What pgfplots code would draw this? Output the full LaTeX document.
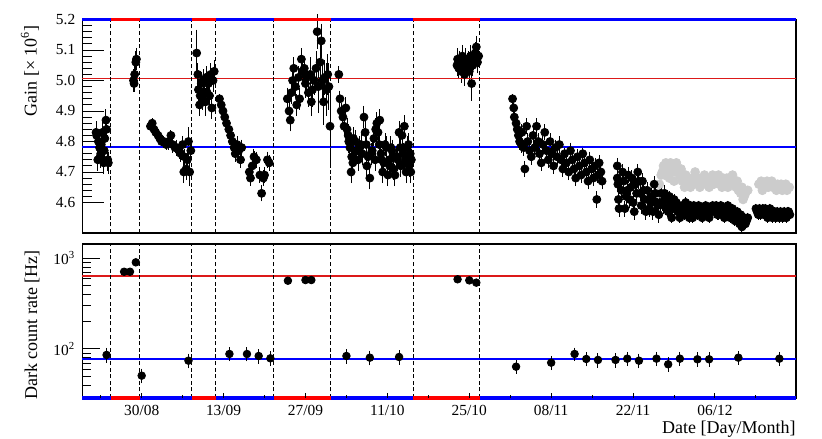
\documentclass[border=0pt]{standalone}
\usepackage{fontspec}
\setmainfont{Liberation Serif}
\usepackage{pgfplots}
\usepackage{pgfplotstable}
\pgfplotsset{compat=1.18}

\definecolor{runRed}{RGB}{255,0,0}
\definecolor{runBlue}{RGB}{0,0,255}
\definecolor{refRed}{RGB}{220,25,25}
\definecolor{lateGrey}{RGB}{204,204,204}

% day 0 = 30/08
\pgfplotstableread{
x y e
-7.8 4.83 0.03
-7.7 4.82 0.03
-7.5 4.74 0.03
-7.4 4.80 0.03
-7.2 4.78 0.03
-7.1 4.75 0.03
-7.0 4.76 0.03
-6.9 4.79 0.03
-6.7 4.83 0.03
-6.5 4.73 0.03
-6.4 4.77 0.03
-6.3 4.81 0.03
-6.1 4.87 0.03
-6.0 4.84 0.03
-5.8 4.74 0.03
-5.7 4.73 0.03
-1.4 5.00 0.03
-1.3 4.99 0.02
-1.2 5.02 0.03
-1.0 5.06 0.03
-0.9 5.07 0.03
1.5 4.85 0.01
1.8 4.86 0.01
2.1 4.84 0.01
2.4 4.83 0.01
2.8 4.82 0.01
3.1 4.81 0.01
3.4 4.80 0.01
3.8 4.80 0.01
4.2 4.79 0.01
4.6 4.80 0.02
5.0 4.82 0.01
5.3 4.79 0.02
5.7 4.78 0.01
6.0 4.78 0.02
6.4 4.77 0.02
6.7 4.76 0.02
7.0 4.79 0.02
7.2 4.70 0.03
7.3 4.75 0.02
7.6 4.71 0.03
7.8 4.74 0.03
8.0 4.80 0.04
8.2 4.70 0.04
8.4 4.77 0.03
9.4 5.09 0.07
9.6 5.02 0.03
9.7 4.97 0.03
9.9 4.92 0.03
10.0 4.95 0.03
10.2 4.99 0.03
10.4 4.94 0.03
10.5 5.00 0.03
10.7 4.96 0.03
10.9 4.93 0.04
11.0 5.01 0.03
11.2 4.96 0.03
11.4 4.99 0.03
11.6 4.95 0.03
11.8 5.02 0.03
12.0 4.91 0.03
12.2 5.00 0.03
12.4 5.03 0.03
13.3 4.94 0.01
13.6 4.92 0.01
13.9 4.90 0.01
14.2 4.88 0.01
14.5 4.86 0.01
14.9 4.84 0.01
15.2 4.82 0.01
15.5 4.80 0.01
15.8 4.78 0.01
16.0 4.76 0.02
16.3 4.79 0.02
16.6 4.77 0.02
16.9 4.74 0.02
17.1 4.78 0.02
18.4 4.70 0.02
18.6 4.68 0.02
18.9 4.72 0.02
19.2 4.75 0.02
19.6 4.74 0.02
20.2 4.69 0.02
20.5 4.63 0.02
20.8 4.68 0.02
21.0 4.69 0.02
21.5 4.74 0.02
21.8 4.73 0.02
24.9 4.94 0.03
25.2 4.90 0.03
25.4 4.87 0.03
25.6 4.96 0.03
25.8 5.00 0.03
26.0 5.04 0.03
26.3 4.98 0.03
26.5 4.92 0.03
26.8 5.01 0.03
27.0 4.94 0.03
27.3 5.07 0.03
27.5 5.03 0.04
27.8 5.04 0.03
28.0 4.99 0.04
28.2 5.01 0.03
28.5 4.96 0.04
28.8 5.02 0.05
29.0 4.93 0.04
29.2 4.97 0.05
29.5 5.00 0.04
29.8 5.04 0.05
30.0 5.16 0.05
30.2 4.98 0.08
30.5 5.06 0.06
30.7 5.13 0.05
30.9 5.00 0.06
31.1 4.93 0.07
31.3 5.01 0.05
31.6 4.97 0.08
31.8 5.02 0.06
32.0 4.98 0.07
32.2 4.85 0.13
33.7 5.02 0.02
33.9 4.94 0.02
34.1 4.90 0.02
34.4 4.88 0.02
34.6 4.85 0.02
34.9 4.91 0.03
35.1 4.84 0.03
35.3 4.82 0.03
35.4 4.80 0.03
35.6 4.78 0.03
35.8 4.70 0.03
35.9 4.75 0.03
36.1 4.73 0.03
36.2 4.81 0.03
36.5 4.80 0.03
36.6 4.77 0.03
36.8 4.77 0.03
37.0 4.74 0.03
37.3 4.78 0.03
37.5 4.79 0.03
37.7 4.76 0.03
38.0 4.88 0.03
38.2 4.83 0.03
38.4 4.79 0.03
38.5 4.72 0.03
38.7 4.75 0.03
39.0 4.68 0.03
39.2 4.76 0.03
39.4 4.77 0.03
39.7 4.81 0.03
39.9 4.74 0.03
40.0 4.84 0.03
40.2 4.86 0.03
40.4 4.83 0.03
40.6 4.79 0.03
40.7 4.87 0.03
40.9 4.76 0.03
41.0 4.74 0.03
41.2 4.70 0.03
41.4 4.73 0.03
41.6 4.79 0.03
41.8 4.78 0.03
42.1 4.69 0.03
42.3 4.74 0.03
42.4 4.72 0.03
42.6 4.78 0.03
42.8 4.77 0.03
43.0 4.71 0.03
43.1 4.75 0.03
43.3 4.69 0.03
43.5 4.75 0.03
43.8 4.74 0.03
44.0 4.83 0.03
44.2 4.78 0.03
44.3 4.72 0.03
44.5 4.82 0.03
44.6 4.76 0.03
44.8 4.76 0.03
44.9 4.85 0.03
45.0 4.73 0.03
45.2 4.70 0.03
45.4 4.78 0.03
45.5 4.75 0.03
45.6 4.79 0.03
45.7 4.72 0.03
45.9 4.76 0.03
46.0 4.70 0.03
46.1 4.74 0.03
53.9 5.05 0.03
54.0 5.07 0.03
54.2 5.04 0.03
54.4 5.06 0.03
54.6 5.03 0.03
54.8 5.08 0.03
55.0 5.05 0.03
55.2 5.02 0.03
55.4 5.07 0.03
55.6 5.04 0.03
55.8 5.06 0.03
56.0 5.03 0.03
56.2 5.08 0.03
56.4 4.99 0.05
56.6 5.05 0.03
56.8 5.07 0.03
57.0 5.09 0.03
57.2 5.11 0.03
57.4 5.06 0.03
57.6 5.08 0.03
63.4 4.94 0.01
63.6 4.91 0.01
63.7 4.88 0.01
64.0 4.86 0.01
64.2 4.84 0.01
64.4 4.82 0.02
64.6 4.80 0.02
64.9 4.79 0.02
65.0 4.83 0.02
65.3 4.78 0.02
65.5 4.71 0.02
65.8 4.85 0.02
66.0 4.80 0.02
66.3 4.77 0.02
66.6 4.75 0.02
66.9 4.82 0.02
67.2 4.78 0.02
67.5 4.85 0.02
67.8 4.80 0.02
68.0 4.76 0.02
68.3 4.73 0.02
68.6 4.79 0.02
68.9 4.83 0.02
69.2 4.77 0.02
69.5 4.74 0.02
69.8 4.80 0.02
70.1 4.76 0.02
70.4 4.72 0.02
70.7 4.78 0.02
71.0 4.75 0.02
71.4 4.79 0.02
71.7 4.74 0.02
72.0 4.71 0.02
72.3 4.76 0.02
72.6 4.73 0.02
73.0 4.70 0.02
73.3 4.77 0.02
73.6 4.74 0.02
73.9 4.71 0.02
74.2 4.68 0.02
74.5 4.75 0.02
74.8 4.72 0.02
75.1 4.69 0.02
75.4 4.76 0.02
75.7 4.73 0.02
76.0 4.70 0.02
76.3 4.67 0.02
76.6 4.74 0.02
76.9 4.71 0.02
77.2 4.68 0.02
77.5 4.72 0.02
77.8 4.61 0.02
78.0 4.69 0.02
78.2 4.73 0.02
78.5 4.70 0.02
78.7 4.67 0.02
81.3 4.72 0.02
81.3 4.68 0.02
81.4 4.66 0.02
81.5 4.61 0.02
81.6 4.58 0.02
82.0 4.64 0.02
82.2 4.70 0.02
82.4 4.67 0.02
82.6 4.58 0.02
82.8 4.62 0.02
83.0 4.64 0.02
83.2 4.69 0.02
83.4 4.61 0.02
83.6 4.65 0.02
83.8 4.68 0.02
84.0 4.60 0.02
84.2 4.57 0.02
84.4 4.66 0.02
84.6 4.63 0.02
84.8 4.70 0.02
85.0 4.67 0.02
85.2 4.63 0.02
85.4 4.59 0.02
85.6 4.67 0.02
85.8 4.64 0.02
86.0 4.61 0.02
86.2 4.57 0.02
86.4 4.64 0.02
86.6 4.61 0.02
86.8 4.58 0.02
87.0 4.60 0.02
87.2 4.62 0.02
87.4 4.57 0.02
87.6 4.66 0.02
87.8 4.63 0.02
88.0 4.60 0.02
88.2 4.59 0.02
88.4 4.56 0.02
88.6 4.60 0.02
88.8 4.63 0.02
89.0 4.60 0.02
89.2 4.59 0.02
89.4 4.63 0.02
89.6 4.61 0.02
89.8 4.58 0.02
90.0 4.57 0.01
90.2 4.62 0.01
90.4 4.60 0.01
90.6 4.55 0.01
90.8 4.58 0.01
91.0 4.61 0.01
91.2 4.59 0.01
91.4 4.60 0.01
91.6 4.57 0.01
91.8 4.59 0.01
92.0 4.55 0.01
92.2 4.56 0.01
92.4 4.59 0.01
92.6 4.58 0.01
92.8 4.56 0.01
93.0 4.60 0.01
93.2 4.58 0.01
93.4 4.57 0.01
93.6 4.55 0.01
93.8 4.59 0.01
94.0 4.57 0.01
94.2 4.55 0.01
94.4 4.59 0.01
94.6 4.56 0.01
94.8 4.58 0.01
95.0 4.56 0.01
95.2 4.59 0.01
95.4 4.58 0.01
95.6 4.57 0.01
95.8 4.55 0.01
96.0 4.58 0.01
96.2 4.56 0.01
96.4 4.59 0.01
96.8 4.58 0.01
97.0 4.55 0.01
97.2 4.57 0.01
97.4 4.57 0.01
97.6 4.59 0.01
98.0 4.58 0.01
98.2 4.59 0.01
98.4 4.56 0.01
98.6 4.56 0.01
98.8 4.57 0.01
99.0 4.59 0.01
99.2 4.58 0.01
99.4 4.56 0.01
99.6 4.55 0.01
100.0 4.57 0.01
100.2 4.59 0.01
100.4 4.58 0.01
100.6 4.55 0.01
100.8 4.57 0.01
101.0 4.58 0.01
101.2 4.56 0.01
101.4 4.54 0.01
101.6 4.54 0.01
101.8 4.57 0.01
102.0 4.55 0.01
102.2 4.53 0.01
102.4 4.56 0.01
102.6 4.52 0.01
102.8 4.54 0.01
103.0 4.55 0.01
103.2 4.53 0.01
103.4 4.54 0.01
103.6 4.55 0.01
105.0 4.58 0.01
105.2 4.57 0.01
105.4 4.56 0.01
105.6 4.58 0.01
105.8 4.56 0.01
106.0 4.57 0.01
106.2 4.58 0.01
106.4 4.56 0.01
106.6 4.58 0.01
106.8 4.57 0.01
107.0 4.55 0.01
107.2 4.56 0.01
107.4 4.58 0.01
107.6 4.57 0.01
107.8 4.55 0.01
108.0 4.56 0.01
108.2 4.57 0.01
108.4 4.55 0.01
108.6 4.57 0.01
108.8 4.56 0.01
109.0 4.55 0.01
109.2 4.57 0.01
109.4 4.56 0.01
109.6 4.55 0.01
109.8 4.57 0.01
110.0 4.56 0.01
110.2 4.55 0.01
110.4 4.57 0.01
110.6 4.57 0.01
110.8 4.56 0.01
}\gainblack

\pgfplotstableread{
x y
88.2 4.63
88.5 4.66
88.8 4.69
89.0 4.70
89.2 4.72
89.4 4.69
89.6 4.73
90.0 4.71
90.2 4.68
90.4 4.73
90.6 4.70
90.8 4.72
91.0 4.67
91.2 4.70
91.4 4.73
91.6 4.71
92.0 4.69
92.2 4.71
92.4 4.67
92.8 4.65
93.0 4.69
93.2 4.66
93.6 4.68
93.8 4.65
94.0 4.67
94.4 4.66
94.6 4.70
94.8 4.68
95.2 4.68
95.4 4.65
95.6 4.67
96.0 4.68
96.2 4.69
96.4 4.66
96.8 4.67
97.0 4.65
97.2 4.68
97.6 4.69
97.8 4.66
98.0 4.67
98.4 4.68
98.6 4.69
98.8 4.66
99.2 4.65
99.4 4.68
99.6 4.67
100.0 4.68
100.2 4.65
100.4 4.68
100.8 4.67
101.0 4.69
101.2 4.66
101.6 4.65
101.8 4.67
102.0 4.64
102.4 4.63
102.6 4.65
102.8 4.61
103.0 4.62
103.2 4.63
103.6 4.64
105.5 4.66
105.9 4.67
106.1 4.64
106.3 4.66
106.7 4.66
106.9 4.67
107.1 4.65
107.5 4.66
107.7 4.67
107.9 4.65
108.3 4.65
108.5 4.64
108.7 4.66
109.1 4.65
109.3 4.66
109.5 4.64
109.9 4.65
110.1 4.66
110.3 4.64
110.7 4.65
}\gaingrey

\pgfplotstableread{
x y e
-6 86 12
-3 711 20
-2 711 20
-1 903 25
0 50.8 7
8 74.3 10
15 88.1 11
18 88 11
20 83.7 11
22 78.9 11
25 566 15
28 576 15
29 576 15
35 83.7 11
39 80.2 11
44 81.6 11
54 587 15
56 571 15
57.2 539 15
64 63.8 8
70 70.6 9
74 88.1 10
76 77.6 10
78 75.7 10
81 75.7 10
83 78.2 10
85 74.3 10
88 78.2 10
90 67.8 9
92 78.2 10
95 77 10
97 77 10
102 80.2 10
109 78.2 10
}\dcr

\pgfplotsset{
  panel/.style={
    scale only axis, width=356.85pt, xmin=-10.15, xmax=111.85,
    clip=false, tick align=inside,
    axis line style={line width=0.8pt},
    tick style={black, line width=0.5pt},
    every tick label/.append style={font=\fontsize{7.7}{9}\selectfont},
    label style={font=\fontsize{9}{10.8}\selectfont},
  },
  pts/.style={only marks, mark=*, mark size=2pt, black,
    error bars/y dir=both, error bars/y explicit, error bars/error mark=-,
    error bars/error mark options={mark size=1pt, line width=0.5pt, black},
    error bars/error bar style={line width=0.5pt, black}},
  run/.style={line width=1.6pt},
  cut/.style={black, line width=0.5pt, dash pattern=on 2pt off 1.3pt},
}

\begin{document}
\begin{tikzpicture}
\path[use as bounding box] (0,0) rectangle (411pt,-219pt);

\begin{axis}[panel, at={(41.15pt,-116.5pt)}, anchor=south west, height=106.75pt,
  ymin=4.5, ymax=5.2, xtick=\empty,
  ytick={4.6,4.7,4.8,4.9,5.0,5.1,5.2},
  yticklabels={4.6,4.7,4.8,4.9,5.0,5.1,5.2},
  minor y tick num=4, ytick pos=left,
  major tick length=11pt, minor tick length=4.6pt,
  ylabel={Gain [× 10\textsuperscript{6}]},
  ylabel style={at={(axis description cs:-0.0733,1.007)}, anchor=east},
]
\addplot[only marks, mark=*, mark size=2.2pt, lateGrey] table[x=x, y=y] {\gaingrey};
\addplot[pts] table[x=x, y=y, y error=e] {\gainblack};
\addplot[refRed, line width=0.8pt] coordinates {(-10.15,5.007) (111.85,5.007)};
\addplot[runBlue, line width=0.8pt] coordinates {(-10.15,4.782) (111.85,4.782)};
\pgfplotsinvokeforeach{-5.30,-0.34,8.6,12.7,22.6,32.36,46.4,57.8}{
  \addplot[cut] coordinates {(#1,4.5) (#1,5.2)};
}
\addplot[run, runBlue] coordinates {(-10.15,5.2) (-5.30,5.2)};
\addplot[run, runRed] coordinates {(-5.30,5.2) (-0.34,5.2)};
\addplot[run, runBlue] coordinates {(-0.34,5.2) (8.6,5.2)};
\addplot[run, runRed] coordinates {(8.6,5.2) (12.7,5.2)};
\addplot[run, runBlue] coordinates {(12.7,5.2) (22.6,5.2)};
\addplot[run, runRed] coordinates {(22.6,5.2) (32.36,5.2)};
\addplot[run, runBlue] coordinates {(32.36,5.2) (46.4,5.2)};
\addplot[run, runRed] coordinates {(46.4,5.2) (57.8,5.2)};
\addplot[run, runBlue] coordinates {(57.8,5.2) (111.85,5.2)};
\end{axis}

\begin{axis}[panel, at={(41.15pt,-199pt)}, anchor=south west, height=77pt,
  ymode=log, ymin=28.8, ymax=1438, xtick=\empty,
  ytick={100,1000},
  yticklabels={10\textsuperscript{2},10\textsuperscript{3}},
  minor ytick={30,40,50,60,70,80,90,200,300,400,500,600,700,800,900},
  ytick pos=left,
  major tick length=9pt, minor tick length=4.5pt,
  ylabel={Dark count rate [Hz]},
  ylabel style={at={(axis description cs:-0.0705,1.006)}, anchor=east},
]
\addplot[refRed, line width=0.8pt] coordinates {(-10.15,638) (111.85,638)};
\addplot[blue, line width=0.9pt] coordinates {(-10.15,76.9) (111.85,76.9)};
\addplot[pts, mark size=1.9pt] table[x=x, y=y, y error=e] {\dcr};
\pgfplotsinvokeforeach{-5.30,-0.34,8.6,12.7,22.6,32.36,46.4,57.8}{
  \addplot[cut] coordinates {(#1,28.8) (#1,1438)};
}
\addplot[run, runBlue] coordinates {(-10.15,28.8) (-5.30,28.8)};
\addplot[run, runRed] coordinates {(-5.30,28.8) (-0.34,28.8)};
\addplot[run, runBlue] coordinates {(-0.34,28.8) (8.6,28.8)};
\addplot[run, runRed] coordinates {(8.6,28.8) (12.7,28.8)};
\addplot[run, runBlue] coordinates {(12.7,28.8) (22.6,28.8)};
\addplot[run, runRed] coordinates {(22.6,28.8) (32.36,28.8)};
\addplot[run, runBlue] coordinates {(32.36,28.8) (46.4,28.8)};
\addplot[run, runRed] coordinates {(46.4,28.8) (57.8,28.8)};
\addplot[run, runBlue] coordinates {(57.8,28.8) (111.85,28.8)};
\end{axis}

% date ticks and labels, with their own short tick length
\begin{axis}[panel, at={(41.15pt,-199pt)}, anchor=south west, height=77pt,
  ymin=0, ymax=1, ytick=\empty,
  axis line style={draw=none},
  xtick={0,14,28,42,56,70,84,98},
  xticklabels={30/08,13/09,27/09,11/10,25/10,08/11,22/11,06/12},
  minor xtick={-7,7,21,35,49,63,77,91,105},
  xtick pos=bottom, major tick length=2.6pt, minor tick length=1.5pt,
  xlabel={Date [Day/Month]},
  xlabel style={at={(axis description cs:1,0)}, anchor=base east, inner sep=0pt, yshift=-17.75pt},
]
\end{axis}
\end{tikzpicture}
\end{document}
